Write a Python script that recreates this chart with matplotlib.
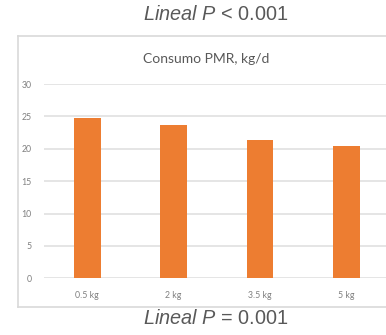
import matplotlib
matplotlib.use('Agg')
import matplotlib.pyplot as plt
from matplotlib.lines import Line2D
import numpy as np

categories = ['0.5 kg', '2 kg', '3.5 kg', '5 kg']
consumo = [24.7, 23.6, 21.3, 20.5]
y_ticks = [0, 5, 10, 15, 20, 25, 30]

plt.rcParams['font.family'] = ['Liberation Sans', 'DejaVu Sans']
plt.rcParams['mathtext.fontset'] = 'custom'
plt.rcParams['mathtext.rm'] = 'Liberation Sans'
plt.rcParams['mathtext.it'] = 'Liberation Sans:italic'

W, H = 386, 335
fig = plt.figure(figsize=(W / 100, H / 100), dpi=100)

# marco gris del gráfico (sin borde derecho, cortado)
box = dict(transform=fig.transFigure, color='#d9d9d9', lw=1.2)
fig.add_artist(Line2D([18 / W, 1], [1 - 36 / H, 1 - 36 / H], **box))
fig.add_artist(Line2D([18 / W, 1], [1 - 306.5 / H, 1 - 306.5 / H], **box))
fig.add_artist(Line2D([18 / W, 18 / W], [1 - 36 / H, 1 - 306.5 / H], **box))

ax = fig.add_axes([44 / W, 1 - 278.3 / H, (W - 44) / W, (278.3 - 84) / H])
x_pos = np.arange(len(categories))
ax.bar(x_pos, consumo, width=0.31, color='#ED7D31', zorder=3)
ax.set_xlim(-0.5, 3.46)
ax.set_ylim(0, 30)
ax.set_yticks(y_ticks)
ax.set_xticks(x_pos)
ax.set_xticklabels(categories, family='Lato')
ax.set_yticklabels(y_ticks, family='Lato')
ax.grid(axis='y', color='#e0e0e0', lw=1.2, zorder=0)
for s in ax.spines.values():
    s.set_visible(False)
ax.tick_params(length=0, labelsize=6.3, labelcolor='#808080')
ax.tick_params(axis='y', pad=9)
ax.tick_params(axis='x', pad=9)

fig.text(206 / W, 1 - 59 / H, 'Consumo PMR, kg/d', ha='center', va='center',
         fontsize=10, color='#595959', family='Lato')
fig.text(216 / W, 1 - 14 / H, r'$\it{Lineal\ P}$ < 0.001', ha='center', va='center',
         fontsize=14.3, color='#595959')
fig.text(216 / W, 1 - 319 / H, r'$\it{Lineal\ P}$ = 0.001', ha='center', va='center',
         fontsize=14.3, color='#595959')

fig.savefig('out.png', dpi=100)
